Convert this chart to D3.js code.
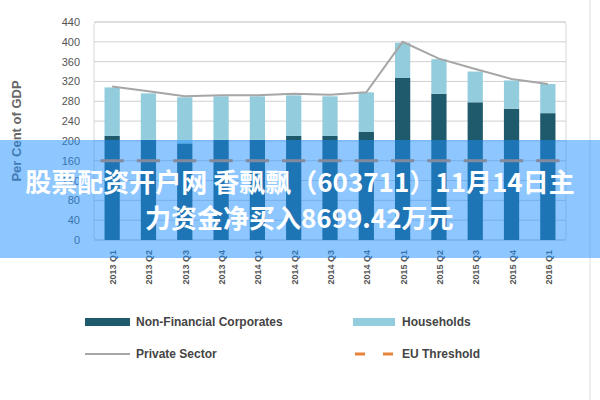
<!DOCTYPE html><html><head><meta charset="utf-8"><script src="https://cdn.jsdelivr.net/npm/d3@7"></script>
<style>body{margin:0;background:#fff}svg{display:block}</style></head><body><svg id="c" width="600" height="400"></svg>
<script>
const quarters=["2013Q1","2013Q2","2013Q3","2013Q4","2014Q1","2014Q2","2014Q3","2014Q4","2015Q1","2015Q2","2015Q3","2015Q4","2016Q1"];
const nonFinancial=[210,202,195,202,202,210,210,218,327,295,278,265,256];
const households=[98,94,93,88,88,82,80,80,71,70,62,57,59];
const privateSector=[310,300,290,292,292,295,293,298,400,366,345,325,315];
const euThreshold=160;
const yTicks=[0,40,80,120,160,200,240,280,320,360,400,440];
const svg=d3.select("#c");const F="Liberation Sans, Arial, sans-serif";
const x=d3.scaleBand().domain(quarters).range([94,566]).paddingInner(0.58).paddingOuter(0.29);
const y=d3.scaleLinear().domain([0,440]).range([240,22]);
svg.append("rect").attr("x",94).attr("y",22).attr("width",472).attr("height",218).attr("fill","none").attr("stroke","#d6d6d6").attr("rx",3);
svg.append("line").attr("x1",590).attr("x2",590).attr("y1",0).attr("y2",400).attr("stroke","#ddd");
svg.append("g").selectAll("line").data(yTicks).join("line").attr("x1",94).attr("x2",566).attr("y1",d=>y(d)).attr("y2",d=>y(d)).attr("stroke","#d0d0d0");
svg.append("g").selectAll("text").data(yTicks).join("text").attr("x",80).attr("y",d=>y(d)+4).attr("text-anchor","end").attr("font-family",F).attr("font-size",11).attr("fill","#555").text(d=>d);
svg.append("text").attr("transform","translate(21,131) rotate(-90)").attr("text-anchor","middle").attr("font-family",F).attr("font-size",13).attr("font-weight","bold").attr("fill","#666").text("Per Cent of GDP");
const g=svg.append("g");
g.selectAll(".nf").data(quarters).join("rect").attr("x",d=>x(d)).attr("width",x.bandwidth()).attr("y",(d,i)=>y(nonFinancial[i])).attr("height",(d,i)=>y(0)-y(nonFinancial[i])).attr("fill","#1f5a6c");
g.selectAll(".hh").data(quarters).join("rect").attr("x",d=>x(d)).attr("width",x.bandwidth()).attr("y",(d,i)=>y(nonFinancial[i]+households[i])).attr("height",(d,i)=>y(0)-y(households[i])).attr("fill","#93cddd");
g.selectAll(".eu").data(quarters).join("line").attr("x1",d=>x(d)-4).attr("x2",d=>x(d)+x.bandwidth()+4).attr("y1",y(euThreshold)).attr("y2",y(euThreshold)).attr("stroke","#e8843a").attr("stroke-width",3);
g.append("path").datum(privateSector).attr("d",d3.line().x((d,i)=>x(quarters[i])+x.bandwidth()/2).y(d=>y(d))).attr("fill","none").attr("stroke","#a6a6a6").attr("stroke-width",2);
svg.append("g").selectAll("text").data(quarters).join("text").attr("transform",d=>`translate(${x(d)+x.bandwidth()/2+4},250) rotate(-90)`).attr("text-anchor","end").attr("font-family",F).attr("font-size",9).attr("font-weight","bold").attr("fill","#555").text(d=>d.slice(0,4)+" "+d.slice(4));
const L=svg.append("g").attr("font-family",F).attr("font-size",12).attr("font-weight","bold").attr("fill","#444");
L.append("rect").attr("x",85).attr("y",318).attr("width",45).attr("height",8).attr("fill","#1f5a6c");
L.append("text").attr("x",136).attr("y",326).text("Non-Financial Corporates");
L.append("rect").attr("x",353).attr("y",318).attr("width",42).attr("height",8).attr("fill","#93cddd");
L.append("text").attr("x",402).attr("y",326).text("Households");
L.append("line").attr("x1",85).attr("x2",130).attr("y1",354).attr("y2",354).attr("stroke","#a6a6a6").attr("stroke-width",2);
L.append("text").attr("x",136).attr("y",358).text("Private Sector");
L.append("line").attr("x1",355).attr("x2",365).attr("y1",354).attr("y2",354).attr("stroke","#e8843a").attr("stroke-width",3);
L.append("line").attr("x1",383).attr("x2",393).attr("y1",354).attr("y2",354).attr("stroke","#e8843a").attr("stroke-width",3);
L.append("text").attr("x",402).attr("y",358).text("EU Threshold");
svg.append("rect").attr("x",0).attr("y",140).attr("width",600).attr("height",118).attr("fill","rgb(30,144,255)").attr("opacity",0.5);
const B=svg.append("g").attr("font-family","Noto Sans CJK SC").attr("font-size",26).attr("font-weight","bold").attr("fill","#fff");
B.append("text").attr("x",300).attr("y",192).attr("text-anchor","middle").text("股票配资开户网 香飘飘（603711）11月14日主");
B.append("text").attr("x",145).attr("y",228).text("力资金净买入8699.42万元");
</script></body></html>
